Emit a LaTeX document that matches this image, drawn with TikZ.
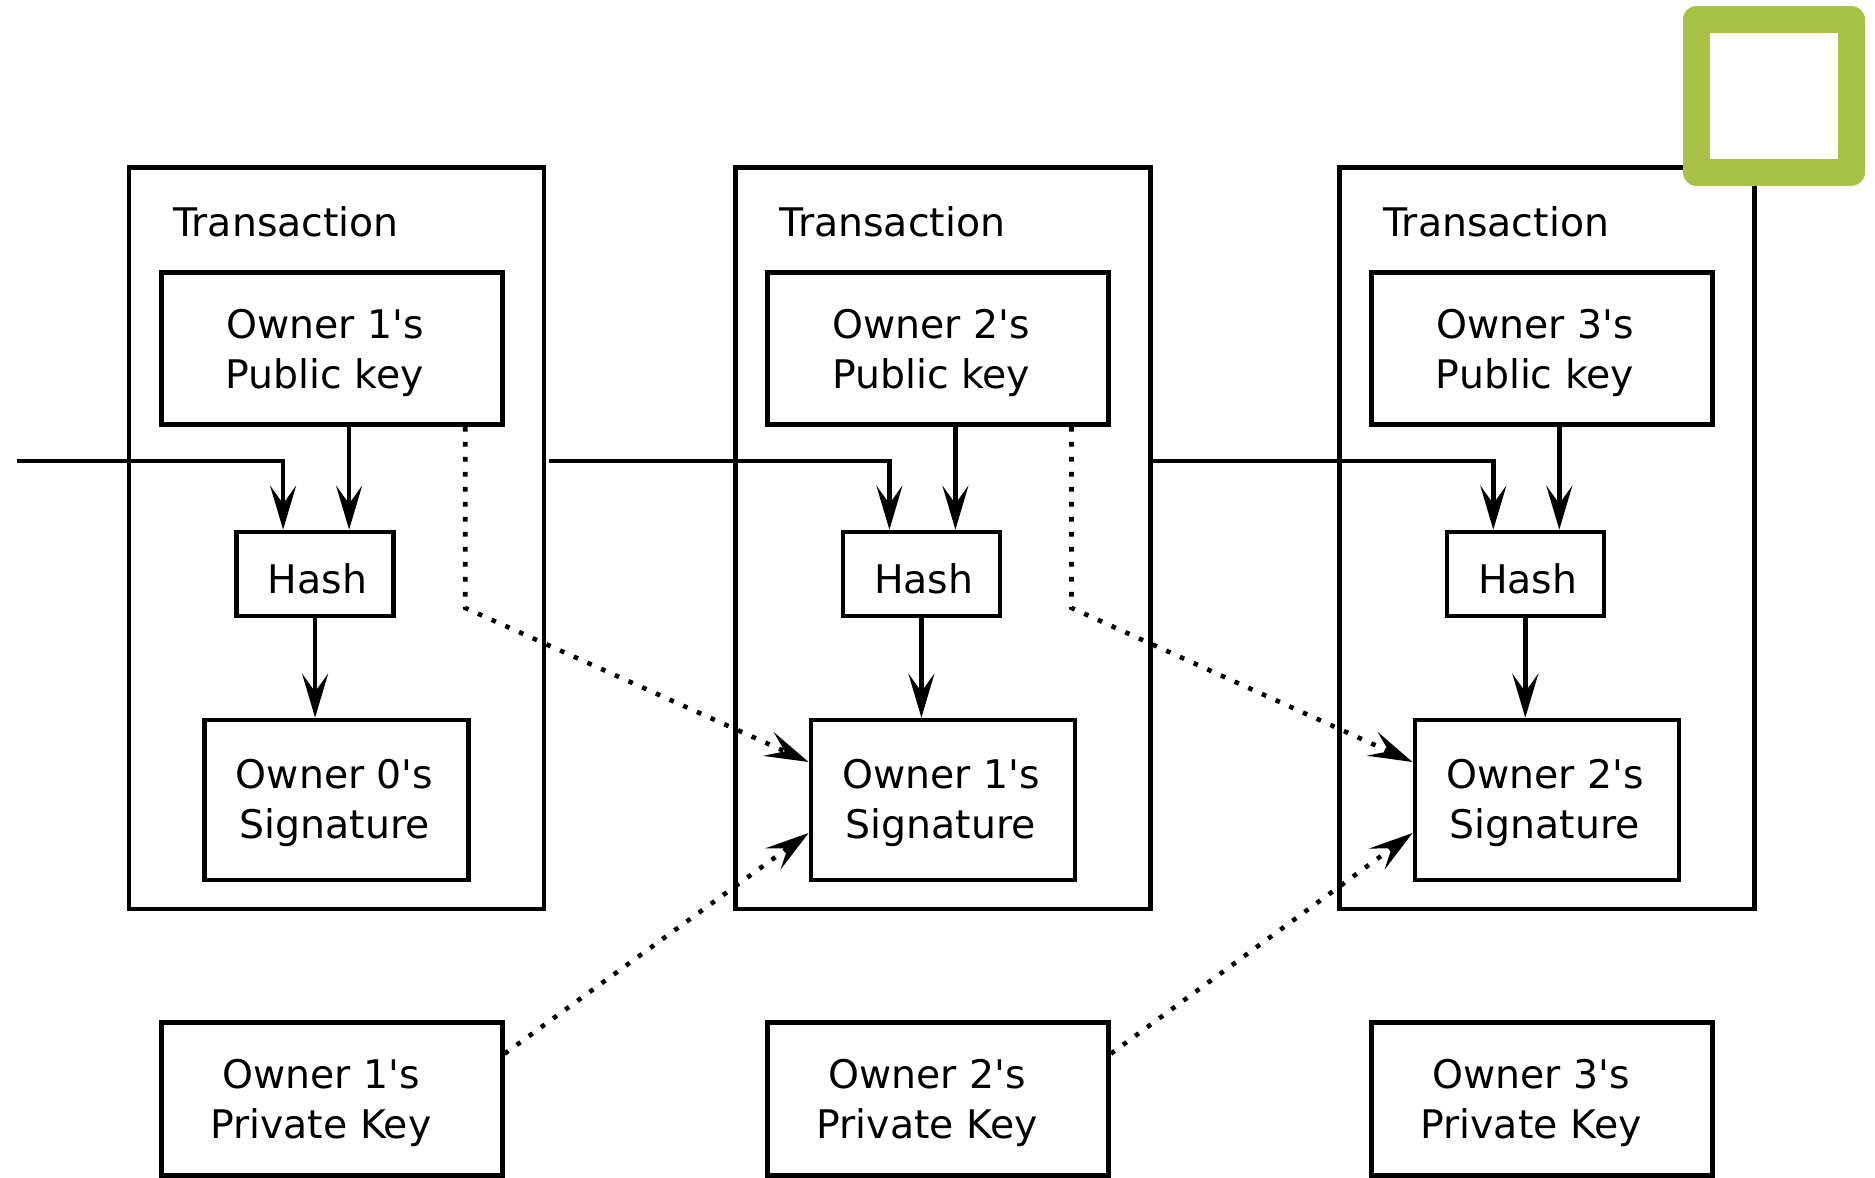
\documentclass[tikz,border=0pt]{standalone}
\usepackage{fontspec}
\setmainfont{DejaVu Sans}
\usetikzlibrary{arrows.meta,calc}
\definecolor{badgegreen}{RGB}{168,194,72}
\begin{document}
\begin{tikzpicture}[x=0.5pt,y=-0.5pt,
  every node/.style={font=\fontsize{19.7pt}{25pt}\selectfont},
  frame/.style={draw, line width=2.3pt, inner sep=0pt},
  txbox/.style={frame, minimum width=207.5pt, minimum height=370.7pt},
  pkbox/.style={frame, minimum width=170.5pt, minimum height=76pt},
  hashbox/.style={frame, minimum width=78.5pt, minimum height=42pt},
  sigbox/.style={frame, minimum width=132pt, minimum height=80pt},
  privbox/.style={frame, minimum width=170.5pt, minimum height=76.5pt},
  txt/.style={align=center, inner sep=0pt},
  link/.style={line width=2.3pt, -{Stealth[length=22pt, width=13pt, inset=9pt]}},
  sigpath/.style={link, dash pattern=on 2.3pt off 5.2pt},
]
\useasboundingbox (0,0) rectangle (1875,1178);

% three transactions, one per column
\foreach \i/\dx in {1/0, 2/606.3, 3/1210.2} {
  \pgfmathtruncatemacro{\prev}{\i-1}
  \node[txbox] (tx\i) at (336.6+\dx, 538.1) {};
  \node[anchor=base west, inner sep=0pt] (txl\i) at (173+\dx, 236) {Transaction};
  \node[pkbox] (pk\i) at (331.8+\dx, 348.6) {};
  \node[txt] (pkt\i) at (324.8+\dx, 352.5) {Owner \i\textquotesingle s\\Public key};
  \node[hashbox] (hash\i) at (315.1+\dx, 574) {};
  \node[txt] (hasht\i) at (317.5+\dx, 578.5) {Hash};
  \node[sigbox] (sig\i) at (336.6+\dx, 800) {};
  \node[txt] (sigt\i) at (334.6+\dx, 802.5) {Owner \prev\textquotesingle s\\Signature};
  \node[privbox] (priv\i) at (331.8+\dx, 1099) {};
  \node[txt] (privt\i) at (320.8+\dx, 1102.5) {Owner \i\textquotesingle s\\Private Key};
  % public key and previous transaction feed the hash, the hash is signed
  \coordinate (h\i) at ($(hash\i.north)+(34,0)$);
  \draw[link] (h\i |- pk\i.south) -- (h\i);
  \draw[link] (hash\i.south) -- (hash\i.south |- sig\i.north);
}

% chain of previous transactions into each hash
\coordinate (in0) at (16.7,461);
\coordinate (in1) at (548.9,461);
\coordinate (in2) at (tx2.east |- in0);
\draw[link] (in0) -| ($(hash1.north)+(-32,0)$);
\draw[link] (in1) -| ($(hash2.north)+(-32,0)$);
\draw[link] (in2) -| ($(hash3.north)+(-32,0)$);

% public key of the next owner and private key of the signer
\foreach \i/\j in {1/2, 2/3} {
  \coordinate (b\i) at ($(pk\i.south)+(133.4,0)$);
  \draw[sigpath] (b\i) -- ++(0,181) -- ($(sig\j.west)+(0,-38)$);
  \draw[sigpath] ($(priv\i.north east)+(0,33.5)$) -- ($(sig\j.west)+(0,33)$);
}

\node[draw=badgegreen, line width=13.5pt, line join=round, inner sep=0pt,
  minimum width=77.25pt, minimum height=76.75pt] (badge) at (1773.75,95.75) {};
\end{tikzpicture}
\end{document}
